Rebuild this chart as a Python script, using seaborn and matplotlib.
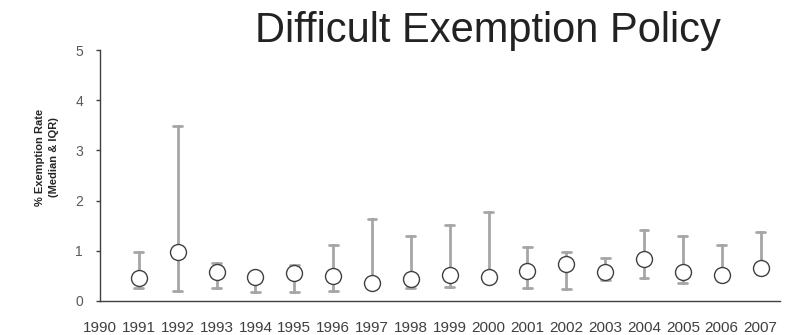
import numpy as np
import pandas as pd
import matplotlib
matplotlib.use("Agg")
import matplotlib.pyplot as plt
import seaborn as sns

# Year labels along the axis (1990 has no observation)
year_labels = ["1990", "1991", "1992", "1993", "1994", "1995", "1996", "1997", "1998",
               "1999", "2000", "2001", "2002", "2003", "2004", "2005", "2006", "2007"]
data_years = ["1991", "1992", "1993", "1994", "1995", "1996", "1997", "1998", "1999",
              "2000", "2001", "2002", "2003", "2004", "2005", "2006", "2007"]

# Median exemption rate (%) and interquartile range per year
median = [0.45, 0.97, 0.57, 0.48, 0.55, 0.50, 0.35, 0.43, 0.52,
          0.48, 0.60, 0.74, 0.58, 0.84, 0.58, 0.52, 0.66]
q1 = [0.25, 0.19, 0.25, 0.17, 0.17, 0.19, 0.30, 0.25, 0.27,
      0.42, 0.26, 0.23, 0.42, 0.46, 0.35, 0.45, 0.58]
q3 = [0.98, 3.49, 0.76, 0.55, 0.72, 1.12, 1.63, 1.29, 1.52,
      1.77, 1.08, 0.97, 0.85, 1.41, 1.30, 1.12, 1.38]

# Long table: the three quartiles per year; median estimator + min/max interval
rows = []
for yr, lo, md, hi in zip(data_years, q1, median, q3):
    for v in (lo, md, hi):
        rows.append({"year": yr, "rate": v})
df = pd.DataFrame(rows)

sns.set_style("white")
plt.rcParams["font.family"] = ["Liberation Sans", "DejaVu Sans"]

W, H = 787, 335
fig = plt.figure(figsize=(W / 100, H / 100), dpi=100)
ax = fig.add_axes([100 / W, 1 - 301 / H, 680 / W, 251 / H])

sns.pointplot(
    data=df, x="year", y="rate", order=year_labels,
    estimator=np.median,
    errorbar=lambda v: (np.min(v), np.max(v)),
    linestyle="none", marker="o", markersize=11.5,
    markerfacecolor="white", markeredgecolor="#404040", markeredgewidth=1.0,
    color="#a6a6a6", capsize=0.23,
    err_kws={"linewidth": 2.0, "color": "#a6a6a6", "zorder": 1},
    zorder=3, ax=ax,
)

ax.set_xlim(0, 17.5)
ax.set_ylim(0, 5)
ax.set_yticks([0, 1, 2, 3, 4, 5])
ax.set_xlabel("")
ax.set_ylabel("")

for side in ("top", "right"):
    ax.spines[side].set_visible(False)
for side in ("left", "bottom"):
    ax.spines[side].set_color("#404040")
    ax.spines[side].set_linewidth(1.0)

ax.tick_params(axis="y", direction="out", length=3.2, width=1, color="#404040",
               pad=9, labelsize=10, labelcolor="#595959", left=True)
ax.tick_params(axis="x", length=0, pad=14.5, labelsize=11, labelcolor="#404040")

fig.text(487.5 / W, 1 - 42 / H, "Difficult Exemption Policy", ha="center",
         va="baseline", fontsize=30, color="#222222")

fig.text(47 / W, 1 - 157 / H, "% Exemption Rate\n(Median & IQR)", rotation=90,
         ha="center", va="center", multialignment="center", fontweight="bold",
         fontsize=8.0, linespacing=1.55, color="#262626")

fig.savefig("out.png", dpi=100)
